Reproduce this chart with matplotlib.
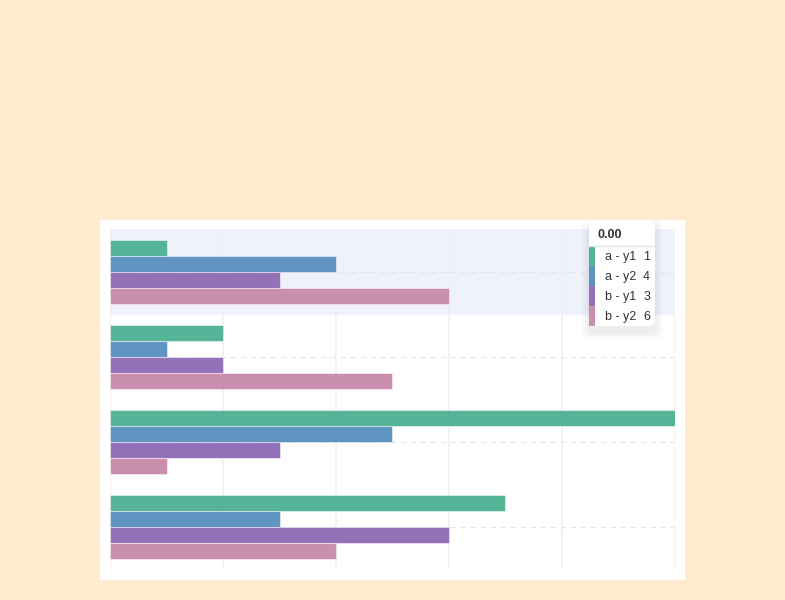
import numpy as np
import matplotlib.pyplot as plt
from matplotlib.patches import FancyBboxPatch, Rectangle

plt.rcParams['font.family'] = ['Liberation Sans', 'DejaVu Sans']

# data
categories = ['c0', 'c1', 'c2', 'c3']
series = ['a - y1', 'a - y2', 'b - y1', 'b - y2']
a_y1 = [1, 2, 10, 7]
a_y2 = [4, 1, 5, 3]
b_y1 = [3, 2, 3, 6]
b_y2 = [6, 5, 1, 4]
colors = ['#55b497', '#5f93c0', '#9371b8', '#ca8eae']
x_ticks = [0, 2, 4, 6, 8, 10]
tip_title = '0.00'

W, H = 785, 600
fig = plt.figure(figsize=(W / 100, H / 100), dpi=100)
fig.patch.set_facecolor('#ffebcd')

# background layer (white panel)
bg = fig.add_axes([0, 0, 1, 1], zorder=0)
bg.set_xlim(0, W)
bg.set_ylim(H, 0)
bg.axis('off')
bg.add_patch(Rectangle((100, 220), 585, 360, facecolor='white', edgecolor='none'))

# main chart
ax = fig.add_axes([110 / W, 31 / H, 565 / W, 340 / H], zorder=1)
ax.patch.set_alpha(0)
y = np.arange(len(categories))
h = 16 / 85
vals = [a_y1, a_y2, b_y1, b_y2]
for i, (v, c) in enumerate(zip(vals, colors)):
    ax.barh(y + (i - 1.5) * h, v, height=h, color=c,
            edgecolor=(1, 1, 1, 0.45), linewidth=0.8, zorder=3)

ax.axhspan(-0.5, 0.5, color='#eff2fa', zorder=0)
for yy in y:
    ax.axhline(yy, color='#e4e4ef', lw=0.8, ls=(0, (5, 4)), zorder=1)
for xx in x_ticks:
    ax.axvline(xx, color='#f0f0f5', lw=1.2, zorder=1)
ax.set_xlim(0, 10)
ax.set_ylim(3.5, -0.5)
ax.set_xticks([])
ax.set_yticks([])
for s in ax.spines.values():
    s.set_visible(False)

# tooltip layer
tp = fig.add_axes([0, 0, 1, 1], zorder=5)
tp.set_xlim(0, W)
tp.set_ylim(H, 0)
tp.axis('off')
x0, y0, tw, th = 589, 221, 66, 105
for k, a in enumerate([0.025, 0.02, 0.015, 0.01]):
    tp.add_patch(FancyBboxPatch((x0 - 2 - k * 2, y0 + 2 - k), tw + 4 + k * 4, th + 6 + k * 3,
                                boxstyle='round,pad=0,rounding_size=8',
                                facecolor='black', alpha=a, edgecolor='none'))
tp.add_patch(FancyBboxPatch((x0, y0), tw, th, boxstyle='round,pad=0,rounding_size=6',
                            facecolor='white', edgecolor='none'))
tp.text(598, 237.5, tip_title, fontsize=9, fontweight='bold', color='#333333', va='baseline')
tp.plot([x0, x0 + tw], [245.5, 245.5], color='#dde3ea', lw=1)
for i, (name, c) in enumerate(zip(series, colors)):
    ry = 246 + i * 20
    tp.add_patch(Rectangle((x0, ry), 6, 20, facecolor=c, edgecolor='none'))
    tp.text(605, ry + 14, name, fontsize=9, color='#333333', va='baseline')
    tp.text(650, ry + 14, str(vals[i][0]), fontsize=9, color='#333333', va='baseline', ha='right')

fig.savefig('out.png', dpi=100, facecolor=fig.get_facecolor())
